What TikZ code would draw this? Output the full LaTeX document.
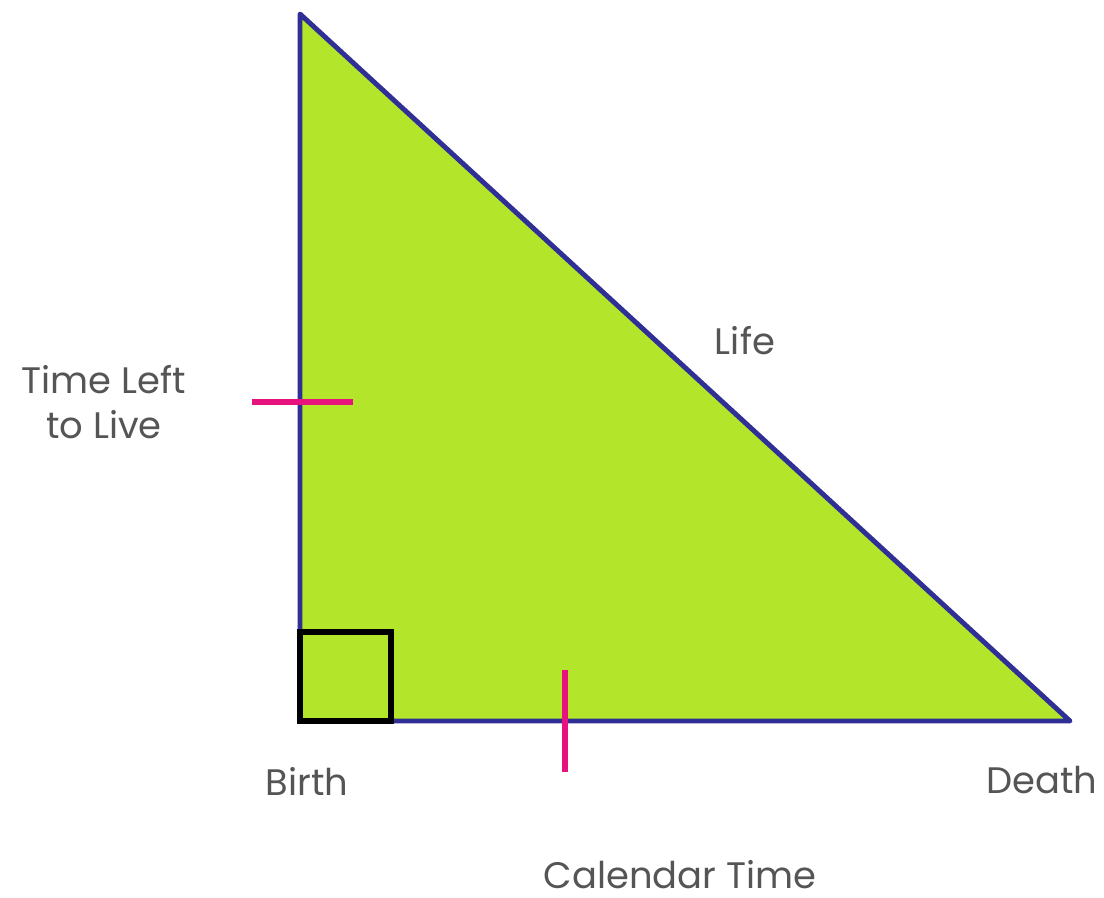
\documentclass[tikz,border=0pt]{standalone}
\usepackage{fontspec}
\setmainfont{Poppins}
\usepackage{xcolor}
\usetikzlibrary{positioning,calc}
\definecolor{lime}{HTML}{B3E52B}
\definecolor{edge}{HTML}{2F2F96}
\definecolor{tick}{HTML}{E8127F}
\definecolor{label}{HTML}{555555}

\begin{document}
\begin{tikzpicture}[
  x=0.02cm, y=-0.02cm,
  font=\fontsize{21}{26}\selectfont,
  side/.style={draw=edge, line width=2.8pt, line join=round, fill=lime},
  mark90/.style={draw=black, line width=3pt},
  hatch/.style={draw=tick, line width=3pt},
  caption/.style={text=label, align=center, inner sep=0pt}
]
\useasboundingbox (0,0) rectangle (1104,897);
% corners
\coordinate (top) at (300,14);
\coordinate (birth) at (300,721);
\coordinate (death) at (1070,721);
% triangle
\path[side] (top) -- (birth) -- (death) -- cycle;
% right angle
\draw[mark90] (birth) rectangle ++(91,-89);
% ticks
\coordinate (lt) at (252,402);
\coordinate (rt) at (353,402);
\coordinate (up) at (565,670);
\coordinate (dn) at (565,772);
\draw[hatch] (lt) -- (rt);
\draw[hatch] (up) -- (dn);
% labels
\node[caption] (life) at (745,341) {Life};
\node[caption] (left) at (104,402) {Time Left\\to Live};
\node[caption] (birthl) at (307,781) {Birth};
\node[caption] (deathl) at (1042,780) {Death};
\node[caption] (cal) at (680,875) {Calendar Time};
\end{tikzpicture}
\end{document}
